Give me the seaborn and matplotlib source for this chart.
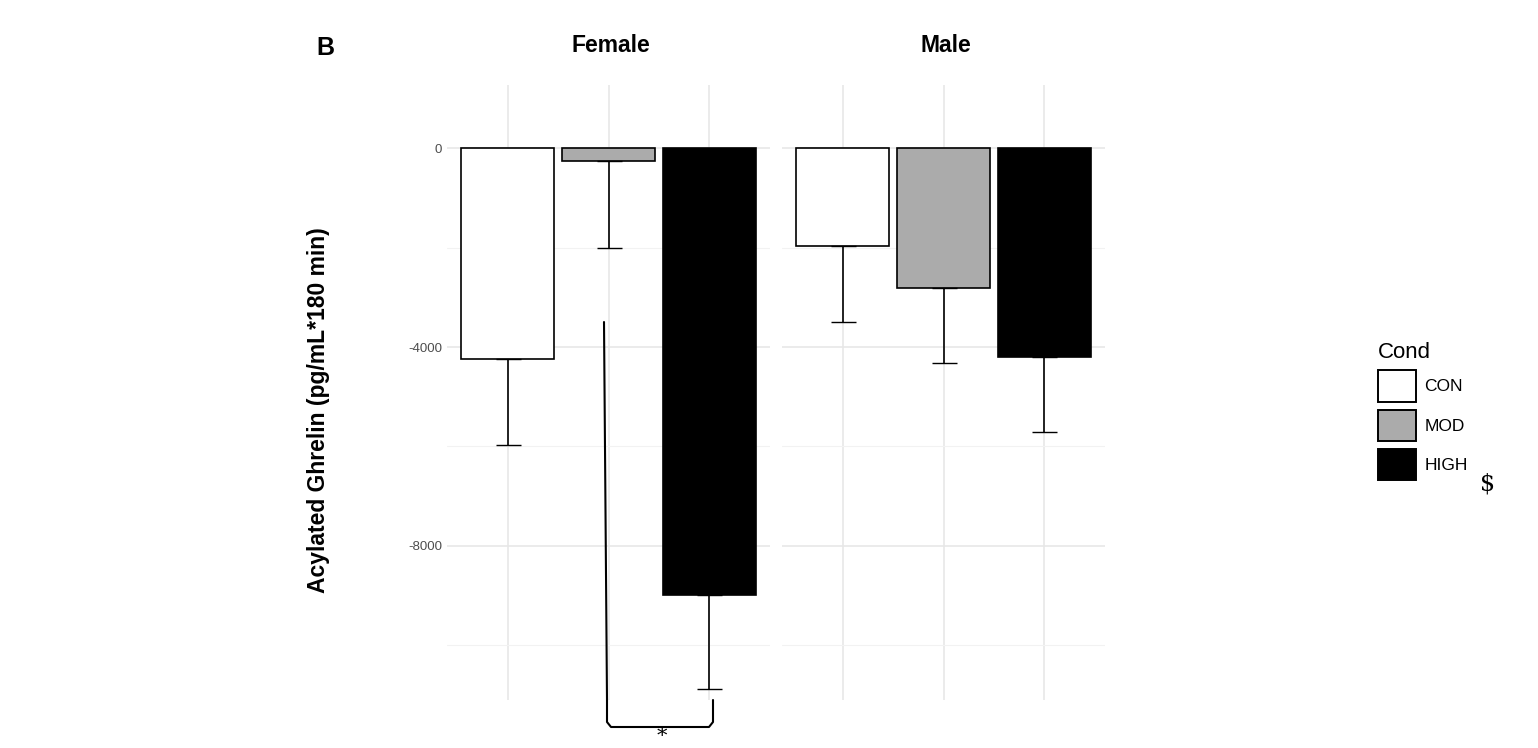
import numpy as np
import pandas as pd
import matplotlib.pyplot as plt
import seaborn as sns
from matplotlib.patches import Patch

sexes = ["Female", "Male"]
conds = ["CON", "MOD", "HIGH"]
female_means = [-4240, -260, -8980]
female_err = [1740, 1750, 1890]
male_means = [-1970, -2820, -4210]
male_err = [1530, 1510, 1490]
colors = {"CON": "white", "MOD": "#ababab", "HIGH": "black"}

df = pd.DataFrame({
    "sex": ["Female"] * 3 + ["Male"] * 3,
    "cond": conds * 2,
    "auc": female_means + male_means,
    "err": female_err + male_err,
})

sns.set_style("white")
plt.rcParams["font.family"] = ["Liberation Sans", "DejaVu Sans"]
plt.rcParams["text.color"] = "black"
fig = plt.figure(figsize=(15.38, 7.48), dpi=100)
W, H = 1538, 748
lefts = [447, 782]
for i, sex in enumerate(sexes):
    ax = fig.add_axes([lefts[i] / W, 48 / H, 323 / W, 615 / H])
    sub = df[df["sex"] == sex]
    sns.barplot(data=sub, x="cond", y="auc", hue="cond", order=conds,
                palette=colors, edgecolor="black", linewidth=1.2, width=0.92,
                legend=False, ax=ax, zorder=2)
    ax.errorbar(range(3), sub["auc"], yerr=[sub["err"], np.zeros(3)],
                fmt="none", ecolor="black", elinewidth=1.2, capsize=9, zorder=3)
    ax.set_xlim(-0.6, 2.6)
    ax.set_ylim(-11100, 1270)
    ax.set_yticks([0, -4000, -8000])
    ax.set_yticks([-2000, -6000, -10000], minor=True)
    ax.grid(True, which="major", color="#e6e6e6", lw=1.1, zorder=0)
    ax.grid(True, which="minor", axis="y", color="#f2f2f2", lw=0.8, zorder=0)
    ax.set_xticks(range(3))
    ax.set_xticklabels([])
    ax.tick_params(length=0, labelsize=9.5, labelcolor="#4d4d4d")
    if i == 1:
        ax.set_yticklabels([])
    else:
        ax.set_yticklabels(["0", "-4000", "-8000"])
    ax.set_xlabel("")
    ax.set_ylabel("")
    for s in ax.spines.values():
        s.set_visible(False)
    fig.text((lefts[i] + 164) / W, 1 - 46 / H, sex, ha="center", va="center",
             fontsize=16.5, fontweight="bold")

fig.text(325 / W, 1 - 48 / H, "B", ha="center", va="center", fontsize=18, fontweight="bold")
fig.text(318 / W, 1 - 410 / H, "Acylated Ghrelin (pg/mL*180 min)", rotation=90,
         ha="center", va="center", fontsize=16.5, fontweight="bold")

# significance bracket
def fx(x): return x / W
def fy(y): return 1 - y / H
fig.add_artist(plt.Line2D([fx(604), fx(607)], [fy(322), fy(700)], color="black", lw=1.5))
fig.add_artist(plt.Line2D([fx(607), fx(607), fx(611), fx(709), fx(713), fx(713)],
                          [fy(700), fy(722), fy(727), fy(727), fy(722), fy(700)],
                          color="black", lw=1.5))
fig.text(fx(662), fy(736), "*", ha="center", va="center", fontsize=15, family="DejaVu Serif")

handles = [Patch(facecolor=colors[c], edgecolor="black", linewidth=1.4) for c in conds]
leg = fig.legend(handles, conds, title="Cond", loc="upper left",
                 bbox_to_anchor=(1362 / W, 1 - 326 / H), frameon=False,
                 fontsize=12.5, title_fontsize=16, handlelength=2.2, handleheight=2.4,
                 labelspacing=0.45, handletextpad=0.5, alignment="left")
fig.text(1480 / W, 1 - 484 / H, r"\$", ha="left", va="center", fontsize=17,
         family="DejaVu Serif")

fig.savefig("out.png", dpi=100)
